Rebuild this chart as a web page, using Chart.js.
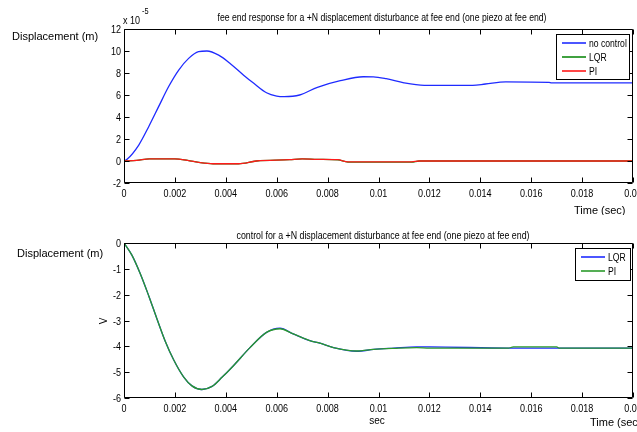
<!DOCTYPE html>
<html>
<head>
<meta charset="utf-8">
<script src="https://cdn.jsdelivr.net/npm/chart.js@4.4.0/dist/chart.umd.min.js"></script>
<style>
  html, body { margin: 0; padding: 0; background: #fff; overflow: hidden; width: 637px; height: 432px; }
  canvas { position: absolute; left: 0; }
  #topChart { top: 0; }
  #bottomChart { top: 215px; }
</style>
</head>
<body>
<canvas id="topChart" width="660" height="215"></canvas>
<canvas id="bottomChart" width="660" height="217"></canvas>
<script>
// ---- data ----
// top plot: displacement in units of 1e-5 m
var timeNoControl = [0, 0.00012, 0.00058, 0.00097, 0.00136, 0.00175, 0.00215, 0.00254, 0.00293, 0.00326, 0.00372,
  0.00418, 0.0047, 0.0051, 0.0056, 0.006, 0.0063, 0.0069, 0.0076, 0.0085, 0.0094, 0.0098, 0.0103, 0.011,
  0.0118, 0.0137, 0.0142, 0.015, 0.0167, 0.0168, 0.02];
var noControl = [0, 0.15, 1.45, 3.12, 4.94, 6.75, 8.27, 9.33, 9.94, 10.0, 9.62,
  8.85, 7.8, 7.06, 6.2, 5.9, 5.85, 6.0, 6.7, 7.3, 7.66, 7.65, 7.48, 7.1,
  6.88, 6.88, 7.0, 7.2, 7.15, 7.1, 7.1];

var timeCtrl = [0, 0.0005, 0.001, 0.002, 0.0025, 0.003, 0.0035, 0.0045, 0.0052, 0.0065, 0.007, 0.0076, 0.0084,
  0.0088, 0.0113, 0.0116, 0.02];
var lqrDisp = [0, 0.05, 0.2, 0.2, 0.05, -0.15, -0.25, -0.25, 0, 0.12, 0.2, 0.15, 0.1, -0.1, -0.1, 0, 0];
var piDisp = [0, 0.05, 0.2, 0.2, 0.05, -0.15, -0.25, -0.25, 0, 0.12, 0.2, 0.15, 0.12, -0.08, -0.08, 0, 0];

// bottom plot: control voltage
var timeVolt = [0, 0.00031, 0.00064, 0.00097, 0.0013, 0.00162, 0.00195, 0.00234, 0.00267, 0.00306, 0.00346,
  0.00385, 0.0043, 0.00495, 0.0056, 0.00613, 0.00665, 0.0073, 0.0077, 0.00823, 0.00915, 0.00981, 0.0106,
  0.0115, 0.012, 0.0151, 0.0153, 0.017, 0.0171, 0.02];
var lqrVolt = [0, -0.47, -1.19, -2.04, -2.95, -3.8, -4.52, -5.18, -5.53, -5.67, -5.55,
  -5.2, -4.75, -4.05, -3.46, -3.3, -3.52, -3.78, -3.88, -4.05, -4.19, -4.12, -4.07,
  -4.02, -4.02, -4.07, -4.07, -4.07, -4.07, -4.07];
var piVolt = [0, -0.47, -1.19, -2.04, -2.95, -3.8, -4.52, -5.18, -5.53, -5.67, -5.55,
  -5.2, -4.75, -4.05, -3.46, -3.32, -3.52, -3.78, -3.88, -4.05, -4.18, -4.12, -4.08,
  -4.05, -4.07, -4.07, -4.02, -4.02, -4.07, -4.07];

// ticks
var timeTicks = [0, 0.002, 0.004, 0.006, 0.008, 0.01, 0.012, 0.014, 0.016, 0.018, 0.02];
var timeTickLabels = ['0', '0.002', '0.004', '0.006', '0.008', '0.01', '0.012', '0.014', '0.016', '0.018', '0.02'];
var dispTicks = [-2, 0, 2, 4, 6, 8, 10, 12];
var dispTickLabels = ['-2', '0', '2', '4', '6', '8', '10', '12'];
var voltTicks = [-6, -5, -4, -3, -2, -1, 0];
var voltTickLabels = ['-6', '-5', '-4', '-3', '-2', '-1', '0'];

var SANS = "'Liberation Sans', Arial, sans-serif";
var NARROW = 0.82; // no narrow face installed, squeeze the regular one

function pairs(xs, ys) {
  return xs.map(function (x, i) { return { x: x, y: ys[i] }; });
}

function drawText(ctx, t) {
  ctx.save();
  ctx.font = t.font;
  ctx.textAlign = t.align || 'left';
  ctx.textBaseline = 'alphabetic';
  ctx.translate(t.x, t.y);
  if (t.rotate) ctx.rotate(t.rotate);
  var sx = t.sx || 1;
  if (t.width) sx = t.width / ctx.measureText(t.text).width;
  ctx.scale(sx, 1);
  ctx.fillStyle = '#000';
  ctx.fillText(t.text, 0, 0);
  ctx.restore();
}

// draws the matlab style box, inner tick marks, tick labels, legend and loose texts
var matlabBox = {
  id: 'matlabBox',
  afterDraw: function (chart, args, opts) {
    var ctx = chart.ctx, a = chart.chartArea;
    var xs = chart.scales.x, ys = chart.scales.y;
    var L = Math.round(a.left) + 0.5, R = Math.round(a.right) - 0.5;
    var T = Math.round(a.top) + 0.5, B = Math.round(a.bottom) - 0.5;
    ctx.save();
    ctx.strokeStyle = '#000';
    ctx.lineWidth = 1;
    ctx.beginPath();
    ctx.rect(L, T, R - L, B - T);
    xs.ticks.forEach(function (t) {
      var px = Math.round(xs.getPixelForValue(t.value)) + 0.5;
      ctx.moveTo(px, T); ctx.lineTo(px, T + 5);
      ctx.moveTo(px, B); ctx.lineTo(px, B - 5);
    });
    ys.ticks.forEach(function (t) {
      var py = Math.round(ys.getPixelForValue(t.value)) + 0.5;
      ctx.moveTo(L, py); ctx.lineTo(L + 5, py);
      ctx.moveTo(R, py); ctx.lineTo(R - 5, py);
    });
    ctx.stroke();

    // tick labels
    xs.ticks.forEach(function (t, i) {
      drawText(ctx, { text: opts.xLabels[i], x: xs.getPixelForValue(t.value), y: a.bottom + 14,
        font: '11px ' + SANS, align: 'center', sx: NARROW });
    });
    ys.ticks.forEach(function (t, i) {
      drawText(ctx, { text: opts.yLabels[i], x: a.left - 3, y: ys.getPixelForValue(t.value) + 4,
        font: '11px ' + SANS, align: 'right', sx: NARROW });
    });

    // legend
    var lg = opts.legend;
    ctx.fillStyle = '#fff';
    ctx.fillRect(lg.x, lg.y, lg.w, lg.h);
    ctx.strokeRect(lg.x + 0.5, lg.y + 0.5, lg.w - 1, lg.h - 1);
    chart.data.datasets.forEach(function (ds, i) {
      var y = lg.y + lg.first + i * lg.row;
      ctx.strokeStyle = ds.borderColor;
      ctx.lineWidth = 1.6;
      ctx.beginPath();
      ctx.moveTo(lg.x + 6, y); ctx.lineTo(lg.x + 6 + lg.line, y);
      ctx.stroke();
      drawText(ctx, { text: ds.label, x: lg.x + 9 + lg.line, y: y + 4, font: '10.5px ' + SANS, sx: NARROW });
    });

    opts.texts.forEach(function (t) { drawText(ctx, t); });
    ctx.restore();
  }
};

function buildScales(yMin, yMax, yTicks, xHeight) {
  return {
    x: {
      type: 'linear', min: 0, max: 0.02,
      grid: { display: false, drawTicks: false },
      border: { display: false },
      afterBuildTicks: function (axis) { axis.ticks = timeTicks.map(function (v) { return { value: v }; }); },
      afterFit: function (axis) { axis.height = xHeight; },
      ticks: { display: false }
    },
    y: {
      min: yMin, max: yMax,
      grid: { display: false, drawTicks: false },
      border: { display: false },
      afterBuildTicks: function (axis) { axis.ticks = yTicks.map(function (v) { return { value: v }; }); },
      afterFit: function (axis) { axis.width = 124; },
      ticks: { display: false }
    }
  };
}

var lineStyle = { pointRadius: 0, borderWidth: 1.3, fill: false, cubicInterpolationMode: 'monotone' };

new Chart(document.getElementById('topChart'), {
  type: 'line',
  data: {
    datasets: [
      Object.assign({ label: 'no control', data: pairs(timeNoControl, noControl), borderColor: '#1f2bff', order: 2 }, lineStyle),
      Object.assign({ label: 'LQR', data: pairs(timeCtrl, lqrDisp), borderColor: '#108a10', order: 1 }, lineStyle),
      Object.assign({ label: 'PI', data: pairs(timeCtrl, piDisp), borderColor: '#ff1a1a', order: 0 }, lineStyle)
    ]
  },
  options: {
    responsive: false, animation: false,
    layout: { padding: { left: 0, top: 29, right: 27, bottom: 0 } },
    scales: buildScales(-2, 12, dispTicks, 32),
    plugins: {
      legend: { display: false }, tooltip: { enabled: false },
      matlabBox: {
        xLabels: timeTickLabels,
        yLabels: dispTickLabels,
        legend: { x: 556, y: 34, w: 74, h: 46, first: 9, row: 14, line: 24 },
        texts: [
          { text: 'fee end response for a +N displacement disturbance at fee end (one piezo at fee end)', x: 382, y: 21, font: '10px ' + SANS, align: 'center', width: 329 },
          { text: 'x 10', x: 123, y: 24, font: '11px ' + SANS, sx: NARROW },
          { text: '-5', x: 142, y: 14, font: '9px ' + SANS, sx: NARROW },
          { text: 'Displacement (m)', x: 12, y: 40, font: '11px ' + SANS },
          { text: 'Time (sec)', x: 574, y: 214, font: '11px ' + SANS }
        ]
      }
    }
  },
  plugins: [matlabBox]
});

new Chart(document.getElementById('bottomChart'), {
  type: 'line',
  data: {
    datasets: [
      Object.assign({ label: 'LQR', data: pairs(timeVolt, lqrVolt), borderColor: '#1f2bff', order: 1 }, lineStyle),
      Object.assign({ label: 'PI', data: pairs(timeVolt, piVolt), borderColor: '#2a9a2a', order: 0 }, lineStyle)
    ]
  },
  options: {
    responsive: false, animation: false,
    layout: { padding: { left: 0, top: 28, right: 27, bottom: 0 } },
    scales: buildScales(-6, 0, voltTicks, 34),
    plugins: {
      legend: { display: false }, tooltip: { enabled: false },
      matlabBox: {
        xLabels: timeTickLabels,
        yLabels: voltTickLabels,
        legend: { x: 575, y: 33, w: 56, h: 33, first: 9, row: 14, line: 24 },
        texts: [
          { text: 'control for a +N displacement disturbance at fee end (one piezo at fee end)', x: 383, y: 24, font: '10px ' + SANS, align: 'center', width: 293 },
          { text: 'Displacement (m)', x: 17, y: 42, font: '11px ' + SANS },
          { text: 'V', x: 107, y: 106, font: '10px ' + SANS, align: 'center', rotate: -Math.PI / 2 },
          { text: 'sec', x: 377, y: 209, font: '10px ' + SANS, align: 'center' },
          { text: 'Time (sec)', x: 590, y: 211, font: '11px ' + SANS }
        ]
      }
    }
  },
  plugins: [matlabBox]
});
</script>
</body>
</html>
